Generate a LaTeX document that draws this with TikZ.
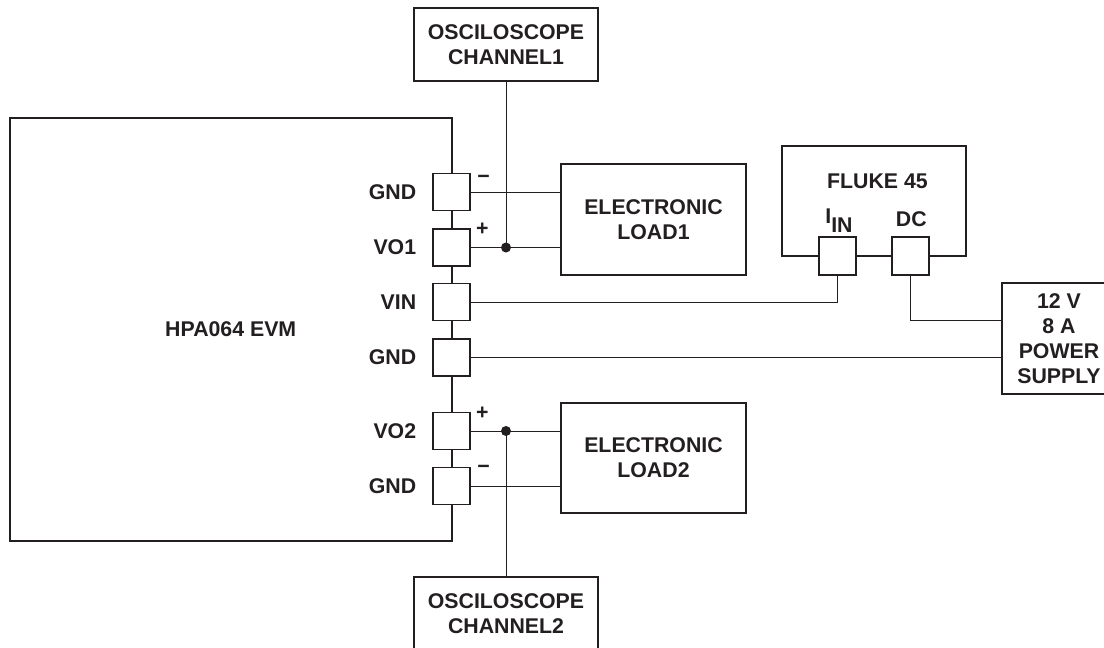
\documentclass[tikz,border=0pt]{standalone}
\usepackage{fontspec}
\setmainfont{Liberation Sans}
\usetikzlibrary{calc}
\definecolor{ink}{HTML}{231F20}
\begin{document}
\begin{tikzpicture}[x=1pt,y=-1pt,
  every node/.style={text=ink},
  lbl/.style={font=\bfseries\fontsize{21.3}{25}\selectfont, inner sep=0pt},
  box/.style={draw=ink, line width=1.7pt, inner sep=0pt, align=center, font=\bfseries\fontsize{21.3}{25}\selectfont},
  term/.style={draw=ink, fill=white, line width=1.3pt, minimum width=37pt, minimum height=37pt, inner sep=0pt},
  wire/.style={draw=ink, line width=0.9pt},
  junction/.style={circle, fill=ink, inner sep=0pt, minimum size=10pt}]
\useasboundingbox (0,0) rectangle (1104,648);

% main boxes
\node[box, line width=2pt, minimum width=441.5pt, minimum height=423pt] (evm) at (230.75,329.5) {HPA064 EVM};
\node[box, minimum width=184pt, minimum height=73pt] (osc1) at (506,44.5) {OSCILOSCOPE\\CHANNEL1};
\node[box, minimum width=185pt, minimum height=111pt] (load1) at (653.5,219.5) {ELECTRONIC\\LOAD1};
\node[box, minimum width=185pt, minimum height=110pt] (load2) at (653.5,458) {ELECTRONIC\\LOAD2};
\node[box, minimum width=184pt, minimum height=73pt] (osc2) at (506,613.5) {OSCILOSCOPE\\CHANNEL2};
\node[box, minimum width=184pt, minimum height=110pt] (fluke) at (874,201) {};
\node[box, minimum width=114pt, minimum height=111pt] (ps) at (1059,338.5) {12 V\\8 A\\POWER\\SUPPLY};

% fluke texts
\node[lbl, anchor=base] (flukelbl) at (877.5,188.3) {FLUKE 45};
\node[lbl, anchor=base] (dclbl) at (911.3,226) {DC};
\node[lbl, anchor=base] (iinlbl) at (839,223.3) {I\raisebox{-9.4pt}{IN}};

% terminals
\node[term] (gnd1) at (451.5,192) {};
\node[term] (vo1) at (451.5,247.5) {};
\node[term] (vin) at (451.5,302) {};
\node[term] (gnd2) at (451.5,357.5) {};
\node[term] (vo2) at (451.5,431) {};
\node[term] (gnd3) at (451.5,486) {};
\node[term, minimum height=38pt] (iin) at (837.5,256) {};
\node[term, minimum height=38pt] (dc) at (910.5,256) {};

% terminal labels
\node[lbl, anchor=base east] (lgnd1) at ($(gnd1.west)+(-16,7.3)$) {GND};
\node[lbl, anchor=base east] (lvo1) at ($(vo1.west)+(-16,7.3)$) {VO1};
\node[lbl, anchor=base east] (lvin) at ($(vin.west)+(-16,7.3)$) {VIN};
\node[lbl, anchor=base east] (lgnd2) at ($(gnd2.west)+(-16,7.3)$) {GND};
\node[lbl, anchor=base east] (lvo2) at ($(vo2.west)+(-16,7.3)$) {VO2};
\node[lbl, anchor=base east] (lgnd3) at ($(gnd3.west)+(-16,7.3)$) {GND};

% polarity signs
\node[lbl, anchor=base] (m1) at (483.5,183.6) {−};
\node[lbl, anchor=base] (p1) at (482.3,235.6) {+};
\node[lbl, anchor=base] (p2) at (482.3,419) {+};
\node[lbl, anchor=base] (m2) at (483.5,473.3) {−};

% junctions
\node[junction] (j1) at (osc1.south |- vo1.east) {};
\node[junction] (j2) at (osc2.north |- vo2.east) {};
\coordinate (psdc) at ($(ps.west)+(0,-17.8)$);

% wires
\draw[wire] (osc1.south) -- (j1.center);
\draw[wire] (gnd1.east) -- (gnd1.east -| load1.west);
\draw[wire] (vo1.east) -- (vo1.east -| load1.west);
\draw[wire] (vin.east) -| (iin.south);
\draw[wire] (dc.south) |- (psdc);
\draw[wire] (gnd2.east) -- (gnd2.east -| ps.west);
\draw[wire] (vo2.east) -- (vo2.east -| load2.west);
\draw[wire] (gnd3.east) -- (gnd3.east -| load2.west);
\draw[wire] (j2.center) -- (osc2.north);
\end{tikzpicture}
\end{document}
